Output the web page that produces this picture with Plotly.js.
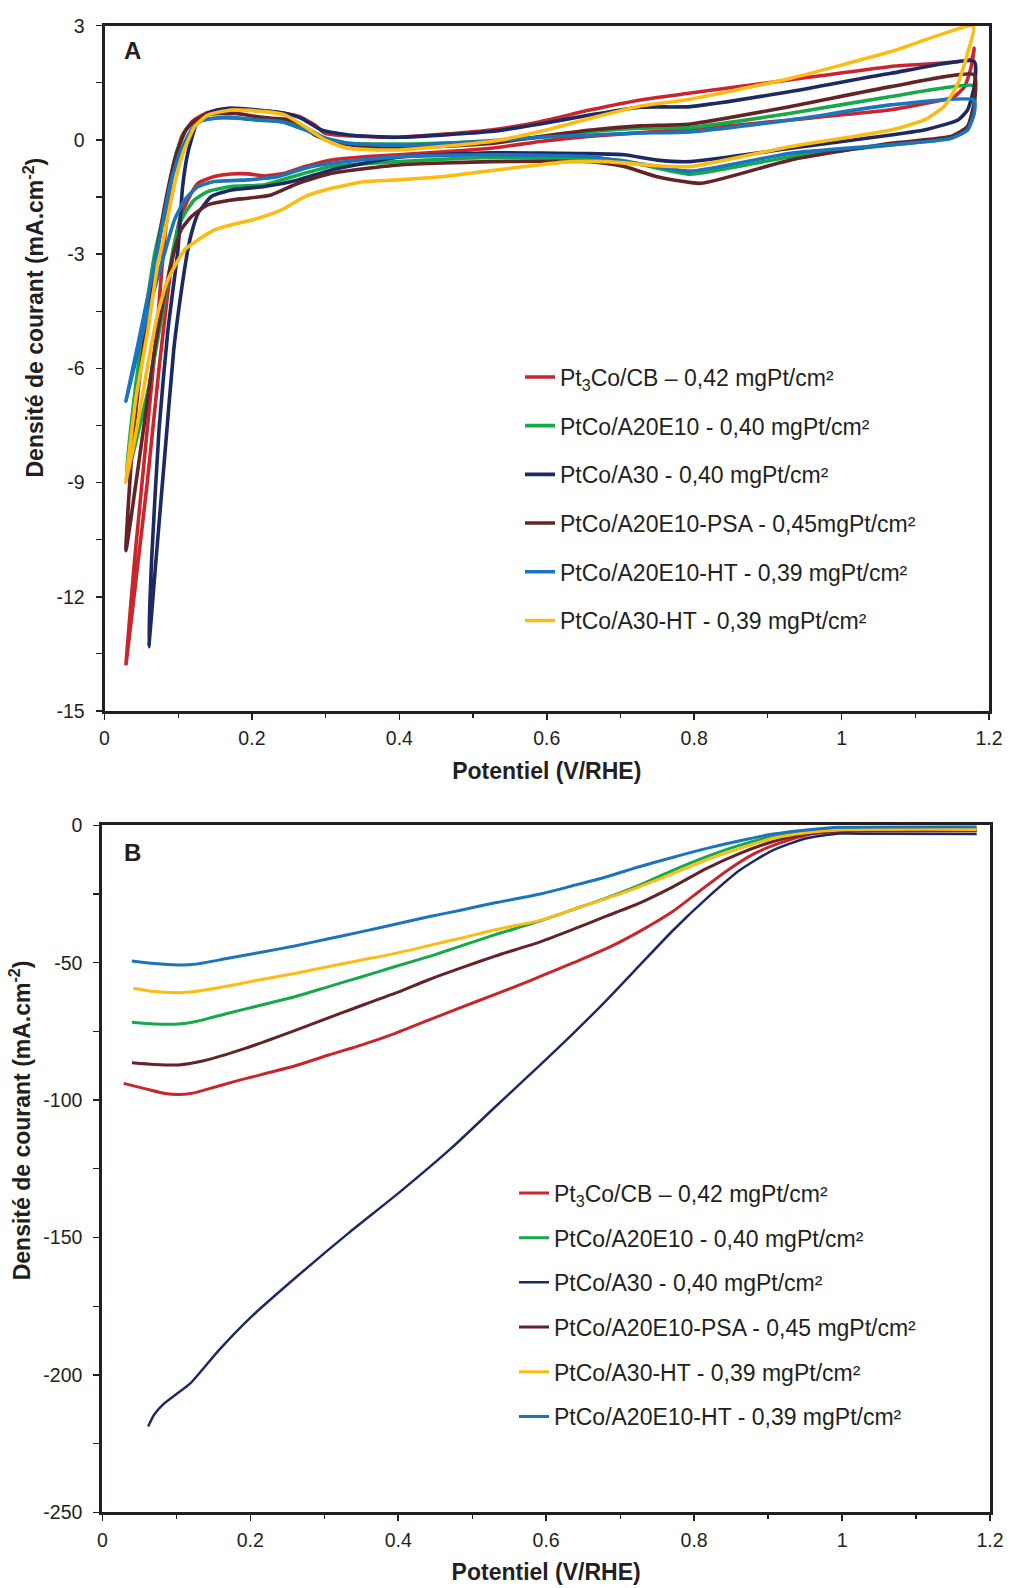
<!DOCTYPE html>
<html><head><meta charset="utf-8">
<script src="https://cdn.plot.ly/plotly-3.0.1.min.js"></script>
<style>html,body{margin:0;padding:0;background:#fff}#chart{width:1010px;height:1588px}</style>
</head><body><div id="chart"></div>
<script>
// ---------- Panel A : cyclic voltammograms (potential V/RHE, current mA/cm2) ----------
const seriesNamesA = [
  'Pt<sub>3</sub>Co/CB – 0,42 mgPt/cm²',
  'PtCo/A20E10 - 0,40 mgPt/cm²',
  'PtCo/A30 - 0,40 mgPt/cm²',
  'PtCo/A20E10-PSA - 0,45mgPt/cm²',
  'PtCo/A20E10-HT - 0,39 mgPt/cm²',
  'PtCo/A30-HT - 0,39 mgPt/cm²'
];
const cvPot_Pt3Co = [0.029,0.041,0.058,0.071,0.080,0.093,0.105,0.120,0.140,0.168,0.200,0.236,0.263,0.285,0.299,0.353,0.400,0.524,0.591,0.660,0.727,0.795,0.931,1.067,1.176,1.180,1.176,1.167,1.153,1.135,1.067,0.931,0.795,0.660,0.591,0.524,0.400,0.353,0.308,0.272,0.245,0.217,0.195,0.172,0.149,0.127,0.113,0.102,0.094,0.086,0.074,0.058,0.043,0.029];
const cvCur_Pt3Co = [-13.8,-11.0,-7.6,-5.0,-2.9,-0.8,0.1,0.5,0.72,0.80,0.78,0.72,0.62,0.40,0.175,0.09,0.07,0.26,0.48,0.79,1.05,1.23,1.58,1.93,2.12,2.41,1.93,1.40,1.14,1.04,0.79,0.525,0.28,0.10,-0.04,-0.22,-0.39,-0.44,-0.525,-0.70,-0.876,-0.946,-0.893,-0.893,-0.963,-1.138,-1.576,-2.10,-2.89,-4.0,-6.0,-9.0,-11.5,-13.8];

const cvPot_A20E10 = [0.029,0.042,0.056,0.068,0.082,0.098,0.112,0.128,0.150,0.163,0.195,0.240,0.270,0.299,0.331,0.399,0.524,0.591,0.660,0.727,0.795,0.931,1.067,1.180,1.180,1.171,1.148,1.067,0.931,0.795,0.750,0.705,0.660,0.524,0.399,0.308,0.263,0.217,0.172,0.140,0.122,0.109,0.100,0.093,0.079,0.060,0.029];
const cvCur_A20E10 = [-8.93,-6.5,-4.5,-3.0,-1.8,-0.3,0.3,0.52,0.57,0.575,0.55,0.48,0.35,0.05,-0.09,-0.11,-0.04,0.07,0.22,0.31,0.33,0.70,1.14,1.42,1.0,0.35,0.04,-0.13,-0.44,-0.90,-0.74,-0.55,-0.48,-0.46,-0.569,-0.70,-0.92,-1.18,-1.225,-1.357,-1.576,-1.926,-2.3,-2.89,-4.5,-6.5,-8.93];

const cvPot_A30 = [0.060,0.064,0.074,0.086,0.0996,0.106,0.113,0.127,0.145,0.1675,0.208,0.2445,0.267,0.294,0.331,0.399,0.524,0.591,0.660,0.727,0.795,0.931,1.067,1.180,1.180,1.171,1.158,1.112,1.067,0.931,0.795,0.750,0.705,0.660,0.524,0.399,0.308,0.263,0.217,0.172,0.145,0.127,0.118,0.113,0.104,0.094,0.083,0.070,0.060];
const cvCur_A30 = [-13.31,-11.0,-7.6,-5.0,-2.89,-1.225,-0.35,0.525,0.744,0.832,0.788,0.70,0.569,0.262,0.131,0.07,0.22,0.42,0.66,0.86,0.875,1.27,1.75,2.06,1.40,0.79,0.525,0.26,0.13,-0.22,-0.57,-0.53,-0.39,-0.36,-0.34,-0.455,-0.788,-1.05,-1.225,-1.313,-1.488,-1.926,-2.45,-2.89,-4.0,-5.5,-8.0,-11.0,-13.31];

const cvPot_PSA = [0.029,0.038,0.050,0.062,0.074,0.085,0.097,0.110,0.122,0.140,0.163,0.181,0.204,0.226,0.2445,0.262,0.285,0.308,0.353,0.399,0.524,0.591,0.660,0.727,0.795,0.931,1.067,1.180,1.180,1.171,1.148,1.067,0.931,0.809,0.750,0.705,0.660,0.524,0.399,0.308,0.263,0.226,0.195,0.172,0.140,0.118,0.104,0.095,0.082,0.068,0.050,0.029];
const cvCur_PSA = [-10.79,-8.0,-5.87,-4.1,-2.6,-1.4,-0.4,0.25,0.5,0.66,0.70,0.69,0.62,0.57,0.55,0.45,0.13,-0.05,-0.18,-0.22,-0.09,0.09,0.26,0.37,0.42,0.88,1.40,1.71,0.96,0.35,0.09,-0.09,-0.525,-1.14,-0.97,-0.70,-0.57,-0.57,-0.657,-0.876,-1.138,-1.445,-1.532,-1.576,-1.707,-2.01,-2.36,-2.89,-4.0,-5.5,-8.0,-10.79];

const cvPot_A20E10HT = [0.029,0.045,0.061,0.072,0.0885,0.102,0.118,0.131,0.160,0.172,0.204,0.240,0.272,0.299,0.331,0.399,0.524,0.591,0.660,0.727,0.795,0.931,1.067,1.180,1.180,1.171,1.148,1.067,0.931,0.795,0.727,0.660,0.524,0.399,0.308,0.272,0.236,0.195,0.149,0.127,0.109,0.095,0.084,0.068,0.050,0.029];
const cvCur_A20E10HT = [-6.86,-5.4,-3.9,-2.89,-1.225,-0.35,0.262,0.5,0.595,0.595,0.525,0.48,0.262,0.044,-0.0875,-0.14,-0.02,0.07,0.13,0.18,0.21,0.525,0.92,1.05,0.70,0.26,0.04,-0.13,-0.35,-0.82,-0.63,-0.44,-0.39,-0.438,-0.613,-0.744,-0.963,-1.05,-1.094,-1.225,-1.576,-2.10,-2.8,-3.9,-5.2,-6.86];

const cvPot_A30HT = [0.029,0.043,0.059,0.0724,0.0769,0.0942,0.1064,0.1223,0.1404,0.172,0.2173,0.2445,0.2717,0.2988,0.3306,0.399,0.524,0.591,0.660,0.727,0.795,0.931,1.067,1.179,1.171,1.158,1.139,1.112,1.067,0.931,0.795,0.750,0.682,0.632,0.569,0.478,0.399,0.353,0.308,0.2717,0.240,0.2083,0.172,0.1494,0.1268,0.109,0.086,0.0724,0.059,0.045,0.029];
const cvCur_A30HT = [-9.02,-6.74,-4.99,-3.24,-2.89,-1.225,-0.35,0.35,0.657,0.788,0.744,0.657,0.35,0.0,-0.219,-0.263,-0.04,0.22,0.57,0.89,1.07,1.62,2.32,2.99,2.28,1.49,0.875,0.525,0.26,-0.175,-0.70,-0.68,-0.57,-0.57,-0.70,-0.92,-1.05,-1.094,-1.27,-1.488,-1.838,-2.057,-2.232,-2.36,-2.627,-2.88,-3.67,-4.55,-5.87,-7.45,-9.02];

// ---------- Panel B : polarisation curves ----------
const seriesNamesB = [
  'Pt<sub>3</sub>Co/CB – 0,42 mgPt/cm²',
  'PtCo/A20E10 - 0,40 mgPt/cm²',
  'PtCo/A30 - 0,40 mgPt/cm²',
  'PtCo/A20E10-PSA - 0,45 mgPt/cm²',
  'PtCo/A30-HT - 0,39 mgPt/cm²',
  'PtCo/A20E10-HT - 0,39 mgPt/cm²'
];
const polPot_Pt3Co = [0.029,0.060,0.085,0.103,0.120,0.140,0.182,0.260,0.306,0.351,0.396,0.441,0.486,0.531,0.576,0.592,0.637,0.682,0.727,0.772,0.808,0.844,0.880,0.907,0.952,0.997,1.050,1.182];
const polCur_Pt3Co = [-93.9,-96.0,-97.6,-98.0,-97.6,-96.2,-93.0,-87.6,-83.6,-79.9,-75.7,-70.9,-66.2,-61.5,-56.8,-55.0,-50.0,-44.8,-38.5,-31.2,-23.8,-16.6,-10.5,-7.3,-3.5,-2.3,-2.1,-2.0];

const polPot_A20E10 = [0.040,0.070,0.103,0.125,0.170,0.215,0.260,0.306,0.351,0.396,0.441,0.486,0.531,0.592,0.637,0.682,0.727,0.772,0.817,0.862,0.907,0.952,0.997,1.182];
const polCur_A20E10 = [-71.7,-72.3,-72.3,-71.5,-68.4,-65.4,-62.4,-58.7,-55.1,-51.4,-47.8,-43.8,-39.8,-34.8,-30.6,-26.4,-21.7,-16.3,-11.4,-7.2,-4.1,-2.3,-1.5,-1.3];

const polPot_A30 = [0.062,0.070,0.084,0.100,0.119,0.158,0.2017,0.2627,0.3324,0.402,0.4718,0.531,0.592,0.6367,0.6818,0.727,0.772,0.817,0.862,0.907,0.952,0.997,1.050,1.182];
const polCur_A30 = [-218.8,-214.5,-210.3,-207.0,-203.1,-190.9,-178.8,-164.3,-148.5,-133.5,-117.5,-102.5,-87.2,-75.7,-63.6,-50.8,-38.1,-26.6,-16.3,-9.0,-4.7,-3.0,-3.1,-3.2];

const polPot_PSA = [0.040,0.070,0.103,0.137,0.193,0.260,0.328,0.396,0.441,0.486,0.531,0.592,0.637,0.682,0.727,0.772,0.817,0.862,0.907,0.952,0.997,1.182];
const polCur_PSA = [-86.4,-87.0,-87.2,-85.7,-81.2,-74.7,-67.8,-61.1,-56.2,-51.8,-47.6,-42.4,-37.8,-33.0,-28.2,-22.3,-15.7,-10.2,-5.9,-3.2,-2.0,-1.8];

const polPot_A30HT = [0.042,0.070,0.103,0.125,0.170,0.215,0.260,0.306,0.351,0.396,0.441,0.486,0.531,0.592,0.637,0.682,0.727,0.772,0.817,0.862,0.907,0.952,0.997,1.182];
const polCur_A30HT = [-59.3,-60.5,-60.9,-60.5,-58.5,-56.1,-53.9,-51.4,-49.0,-46.6,-43.8,-41.0,-38.0,-34.6,-30.6,-26.6,-22.3,-17.5,-12.6,-8.4,-4.7,-2.7,-1.7,-1.5];

const polPot_A20E10HT = [0.040,0.070,0.103,0.125,0.170,0.215,0.260,0.306,0.351,0.396,0.441,0.486,0.531,0.592,0.637,0.682,0.727,0.772,0.817,0.862,0.907,0.952,0.997,1.182];
const polCur_A20E10HT = [-49.4,-50.3,-50.8,-50.6,-48.4,-46.2,-43.9,-41.3,-38.7,-36.0,-33.3,-30.8,-28.2,-25.0,-21.9,-18.7,-15.0,-11.6,-8.4,-5.6,-3.2,-1.7,-0.74,-0.5];

// ---------- axis ticks ----------
const xTickVals = [0, 0.2, 0.4, 0.6, 0.8, 1, 1.2];
const xTickText = ['0', '0.2', '0.4', '0.6', '0.8', '1', '1.2'];
const yTickValsA = [3, 0, -3, -6, -9, -12, -15];
const yTickTextA = ['3', '0', '-3', '-6', '-9', '-12', '-15'];
const yTickValsB = [0, -50, -100, -150, -200, -250];
const yTickTextB = ['0', '-50', '-100', '-150', '-200', '-250'];

// ---------- styles ----------
const RED = '#c9252c', GREEN = '#16a94a', NAVY = '#1c2a64', BROWN = '#642326', BLUE = '#1b75bc', YELLOW = '#fdbb13';
const INK = '#231f20';
const FONT = 'Liberation Sans, Arial, Helvetica, sans-serif';

function cvTrace(x, y, name, color, i) {
  return {x: x, y: y, name: name, type: 'scatter', mode: 'lines', xaxis: 'x', yaxis: 'y',
    legend: 'legend', legendgroup: 'a' + i,
    line: {color: color, width: 3.6, shape: 'spline', smoothing: 0.5}};
}
function polTrace(x, y, name, color, i, w) {
  return {x: x, y: y, name: name, type: 'scatter', mode: 'lines', xaxis: 'x2', yaxis: 'y2',
    legend: 'legend2', legendgroup: 'b' + i,
    line: {color: color, width: w, shape: 'spline', smoothing: 0.6}};
}

const data = [
  cvTrace(cvPot_Pt3Co, cvCur_Pt3Co, seriesNamesA[0], RED, 0),
  cvTrace(cvPot_A20E10, cvCur_A20E10, seriesNamesA[1], GREEN, 1),
  cvTrace(cvPot_A30, cvCur_A30, seriesNamesA[2], NAVY, 2),
  cvTrace(cvPot_PSA, cvCur_PSA, seriesNamesA[3], BROWN, 3),
  cvTrace(cvPot_A20E10HT, cvCur_A20E10HT, seriesNamesA[4], BLUE, 4),
  cvTrace(cvPot_A30HT, cvCur_A30HT, seriesNamesA[5], YELLOW, 5),
  polTrace(polPot_Pt3Co, polCur_Pt3Co, seriesNamesB[0], RED, 0, 3),
  polTrace(polPot_A20E10, polCur_A20E10, seriesNamesB[1], GREEN, 1, 3),
  polTrace(polPot_A30, polCur_A30, seriesNamesB[2], NAVY, 2, 2.5),
  polTrace(polPot_PSA, polCur_PSA, seriesNamesB[3], BROWN, 3, 3),
  polTrace(polPot_A30HT, polCur_A30HT, seriesNamesB[4], YELLOW, 4, 3),
  polTrace(polPot_A20E10HT, polCur_A20E10HT, seriesNamesB[5], BLUE, 5, 3)
];

function xAxis(domain, anchor) {
  return {domain: domain, anchor: anchor, range: [0, 1.2], tickmode: 'array', tickvals: xTickVals, ticktext: xTickText,
    ticks: 'outside', ticklen: 6, tickwidth: 1.5, tickcolor: INK, ticklabelstandoff: 2,
    minor: {dtick: 0.1, tick0: 0, ticks: 'outside', ticklen: 4, tickwidth: 1.2, tickcolor: INK},
    showline: true, mirror: true, linewidth: 3, linecolor: INK, showgrid: false, zeroline: false,
    tickfont: {family: FONT, size: 19.5, color: INK},
    title: {text: '<b>Potentiel (V/RHE)</b>', font: {family: FONT, size: 23, color: INK}, standoff: 15}};
}
function yAxis(domain, anchor, range, vals, text, minorStep) {
  return {domain: domain, anchor: anchor, range: range, tickmode: 'array', tickvals: vals, ticktext: text,
    ticks: 'outside', ticklen: 6, tickwidth: 1.5, tickcolor: INK, ticklabelstandoff: 7,
    minor: {dtick: minorStep, tick0: 0, ticks: 'outside', ticklen: 6, tickwidth: 1.2, tickcolor: INK},
    showline: true, mirror: true, linewidth: 3, linecolor: INK, showgrid: false, zeroline: false,
    tickfont: {family: FONT, size: 19.5, color: INK}};
}

const H = 1588, W = 1010;
const layout = {
  width: W, height: H, margin: {l: 0, r: 0, t: 0, b: 0},
  paper_bgcolor: '#ffffff', plot_bgcolor: '#ffffff',
  font: {family: FONT, color: INK},
  xaxis: xAxis([104.5 / W, 989 / W], 'y'),
  yaxis: yAxis([1 - 711 / H, 1 - 25.7 / H], 'x', [-15, 3], yTickValsA, yTickTextA, 1.5),
  xaxis2: xAxis([102.3 / W, 990 / W], 'y2'),
  yaxis2: yAxis([1 - 1512.3 / H, 1 - 825.3 / H], 'x2', [-250, 0], yTickValsB, yTickTextB, 25),
  legend: {x: 520 / W, y: 1 - 355.5 / H, xanchor: 'left', yanchor: 'top', traceorder: 'grouped', tracegroupgap: 15.8,
    itemwidth: 30, bgcolor: 'rgba(0,0,0,0)', borderwidth: 0, font: {family: FONT, size: 23, color: INK}},
  legend2: {x: 514 / W, y: 1 - 1171.5 / H, xanchor: 'left', yanchor: 'top', traceorder: 'grouped', tracegroupgap: 11.8,
    itemwidth: 30, bgcolor: 'rgba(0,0,0,0)', borderwidth: 0, font: {family: FONT, size: 23, color: INK}},
  showlegend: true,
  annotations: [
    {text: '<b>A</b>', xref: 'paper', yref: 'paper', x: 121.5 / W, y: 1 - 51 / H, xanchor: 'left', yanchor: 'middle', showarrow: false,
      font: {family: FONT, size: 24, color: INK}},
    {text: '<b>B</b>', xref: 'paper', yref: 'paper', x: 121.5 / W, y: 1 - 852 / H, xanchor: 'left', yanchor: 'middle', showarrow: false,
      font: {family: FONT, size: 24, color: INK}},
    {text: '<b>Densité de courant (mA.cm<sup>-2</sup>)</b>', xref: 'paper', yref: 'paper', x: 33.5 / W, y: 1 - 318 / H,
      xanchor: 'center', yanchor: 'middle', textangle: -90, showarrow: false, font: {family: FONT, size: 23, color: INK}},
    {text: '<b>Densité de courant (mA.cm<sup>-2</sup>)</b>', xref: 'paper', yref: 'paper', x: 20.3 / W, y: 1 - 1120 / H,
      xanchor: 'center', yanchor: 'middle', textangle: -90, showarrow: false, font: {family: FONT, size: 23, color: INK}}
  ]
};

Plotly.newPlot('chart', data, layout, {displayModeBar: false, staticPlot: true});
</script></body></html>
